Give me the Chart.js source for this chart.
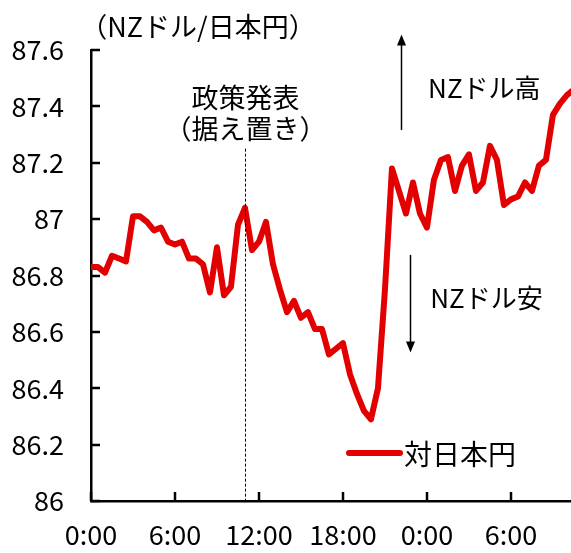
<!DOCTYPE html>
<html>
<head>
<meta charset="utf-8">
<script src="https://cdn.jsdelivr.net/npm/chart.js@4.4.1/dist/chart.umd.min.js"></script>
<style>
html,body{margin:0;padding:0;background:#fff;}
#wrap{width:571px;height:553px;position:relative;}
</style>
</head>
<body>
<div id="wrap"><canvas id="c" width="571" height="553"></canvas></div>
<script>
// Half-hourly time in hours from start (0:00 day 1)
const hours = [0,0.5,1,1.5,2,2.5,3,3.5,4,4.5,5,5.5,6,6.5,7,7.5,8,8.5,9,9.5,10,10.5,11,11.5,12,12.5,13,13.5,14,14.5,15,15.5,16,16.5,17,17.5,18,18.5,19,19.5,20,20.5,21,21.5,22,22.5,23,23.5,24,24.5,25,25.5,26,26.5,27,27.5,28,28.5,29,29.5,30,30.5,31,31.5,32,32.5,33,33.5,34,34.5];
// NZD/JPY rate
const nzdJpy = [86.83,86.83,86.81,86.87,86.86,86.85,87.01,87.01,86.99,86.96,86.97,86.92,86.91,86.92,86.86,86.86,86.84,86.74,86.90,86.73,86.76,86.98,87.04,86.89,86.92,86.99,86.84,86.75,86.67,86.71,86.65,86.67,86.61,86.61,86.52,86.54,86.56,86.45,86.38,86.32,86.29,86.40,86.75,87.18,87.10,87.02,87.13,87.02,86.97,87.14,87.21,87.22,87.10,87.19,87.23,87.10,87.13,87.26,87.21,87.05,87.07,87.08,87.13,87.10,87.19,87.21,87.37,87.41,87.44,87.46];
const seriesName = '対日本円';
const unitLabel = '（NZドル/日本円）';
const yTicks = [86,86.2,86.4,86.6,86.8,87,87.2,87.4,87.6];
const xTicks = [0,6,12,18,24,30];
const xTickLabels = ['0:00','6:00','12:00','18:00','0:00','6:00'];
const policyTime = 11;
const policyText = ['政策発表','（据え置き）'];
const upText = 'NZドル高';
const downText = 'NZドル安';

const JP = '"Noto Sans CJK JP", "Noto Sans", sans-serif';
const RED = 'rgb(226,0,0)';

const overlay = {
  id: 'overlay',
  afterDraw(chart) {
    const {ctx, chartArea: ca, scales: {x, y}} = chart;
    ctx.save();
    // inward tick marks
    ctx.strokeStyle = '#000';
    ctx.lineWidth = 2.5;
    yTicks.forEach(v => {
      const py = Math.round(y.getPixelForValue(v));
      ctx.beginPath(); ctx.moveTo(ca.left, py); ctx.lineTo(ca.left + 9, py); ctx.stroke();
    });
    xTicks.forEach(v => {
      const px = Math.round(x.getPixelForValue(v));
      ctx.beginPath(); ctx.moveTo(px, ca.bottom); ctx.lineTo(px, ca.bottom - 9); ctx.stroke();
    });
    // policy dashed line
    const px = Math.round(x.getPixelForValue(policyTime)) + 0.5;
    ctx.lineWidth = 1;
    ctx.setLineDash([3, 2]);
    ctx.beginPath(); ctx.moveTo(px, y.getPixelForValue(87.25)); ctx.lineTo(px, ca.bottom); ctx.stroke();
    ctx.setLineDash([]);
    // texts
    ctx.fillStyle = '#000';
    ctx.textAlign = 'center';
    ctx.textBaseline = 'middle';
    ctx.font = '27px ' + JP;
    ctx.fillText(unitLabel, 198, 27);
    ctx.fillText(policyText[0], px, y.getPixelForValue(87.43));
    ctx.fillText(policyText[1], px, y.getPixelForValue(87.32));
    ctx.font = '26px ' + JP;
    ctx.fillText(upText, x.getPixelForValue(28.1), y.getPixelForValue(87.465));
    ctx.fillText(downText, x.getPixelForValue(28.25), y.getPixelForValue(86.72));
    // arrows
    const arrow = (xv, y0, y1) => {
      const ax = Math.round(x.getPixelForValue(xv)) + 0.5;
      const p0 = y.getPixelForValue(y0), p1 = y.getPixelForValue(y1);
      const dir = p1 < p0 ? -1 : 1;
      ctx.lineWidth = 1.5;
      ctx.beginPath(); ctx.moveTo(ax, p0); ctx.lineTo(ax, p1 - dir * 9); ctx.stroke();
      ctx.beginPath(); ctx.moveTo(ax, p1); ctx.lineTo(ax - 4.5, p1 - dir * 11); ctx.lineTo(ax + 4.5, p1 - dir * 11); ctx.closePath(); ctx.fill();
    };
    arrow(22.15, 87.316, 87.655);
    arrow(22.79, 86.873, 86.527);
    // legend
    const ds = chart.data.datasets[0];
    const ly = y.getPixelForValue(86.17);
    ctx.strokeStyle = ds.borderColor;
    ctx.lineWidth = 6;
    ctx.lineCap = 'round';
    ctx.beginPath(); ctx.moveTo(349, ly); ctx.lineTo(400, ly); ctx.stroke();
    ctx.textAlign = 'left';
    ctx.font = '28px ' + JP;
    ctx.fillText(ds.label, 404, ly + 1);
    ctx.restore();
  }
};

new Chart(document.getElementById('c'), {
  type: 'line',
  data: {
    datasets: [{
      label: seriesName,
      data: hours.map((h, i) => ({x: h, y: nzdJpy[i]})),
      borderColor: RED,
      borderWidth: 6,
      pointRadius: 0,
      tension: 0,
      borderJoinStyle: 'round',
      borderCapStyle: 'round'
    }]
  },
  options: {
    responsive: false,
    animation: false,
    layout: {padding: {top: 50, right: 0, left: 0, bottom: 0}},
    plugins: {legend: {display: false}, tooltip: {enabled: false}},
    scales: {
      x: {
        type: 'linear',
        min: 0,
        max: 34.29,
        afterBuildTicks: s => { s.ticks = xTicks.map(v => ({value: v})); },
        afterFit: s => { s.height = 52; },
        grid: {display: true, drawOnChartArea: false, drawTicks: false},
        border: {display: true, color: '#000', width: 2.5},
        ticks: {
          padding: 18,
          color: '#000',
          font: {size: 27, family: JP},
          maxRotation: 0,
          autoSkip: false,
          callback: (v) => xTickLabels[xTicks.indexOf(v)]
        }
      },
      y: {
        min: 86,
        max: 87.6,
        afterBuildTicks: s => { s.ticks = yTicks.map(v => ({value: v})); },
        afterFit: s => { s.width = 91; },
        grid: {display: true, drawOnChartArea: false, drawTicks: false},
        border: {display: true, color: '#000', width: 2.5},
        ticks: {
          padding: 27,
          color: '#000',
          font: {size: 27, family: JP},
          callback: (v) => String(Math.round(v * 10) / 10)
        }
      }
    }
  },
  plugins: [overlay]
});
</script>
</body>
</html>
